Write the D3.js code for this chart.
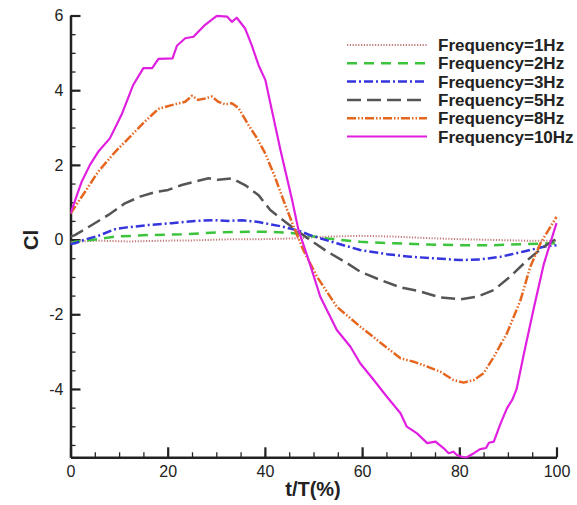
<!DOCTYPE html>
<html>
<head>
<meta charset="utf-8">
<script src="https://cdn.jsdelivr.net/npm/d3@7"></script>
<style>
  body { margin: 0; background: #fff; }
  svg { display: block; font-family: "Liberation Sans", Arial, sans-serif; }
</style>
</head>
<body>
<div id="chart"></div>
<script>
// series values, [t/T (%), Cl]
const f1 = [[0,-0.06],[5.7,-0.03],[12,-0.05],[19.5,-0.03],[26,-0.02],[33.2,0.01],[39,0.01],[45.9,0.03],[52.8,0.08],[59.6,0.1],[66.5,0.08],[73.4,0.04],[80.2,0.01],[87.1,-0.01],[94,-0.03],[100,-0.03]];
const f2 = [[0,-0.1],[0.9,-0.06],[5.7,0.01],[9.2,0.08],[16,0.12],[22.9,0.14],[29.8,0.19],[36.6,0.21],[41.1,0.21],[45.9,0.17],[52.8,0.03],[59.6,-0.06],[66.5,-0.1],[73.4,-0.13],[80.2,-0.15],[87.1,-0.15],[94,-0.12],[100,-0.1]];
const f3 = [[0,-0.12],[0.9,-0.1],[3,0.0],[5.7,0.1],[9.2,0.28],[11.2,0.32],[16,0.39],[20.8,0.44],[25.6,0.5],[29.8,0.52],[32.5,0.5],[35.3,0.52],[38.7,0.47],[43.5,0.35],[46.9,0.24],[49.3,0.12],[54.8,-0.1],[59.6,-0.28],[65.1,-0.39],[69.9,-0.46],[74.7,-0.5],[80.2,-0.55],[84.3,-0.53],[88.5,-0.46],[93.3,-0.32],[97.4,-0.19],[100,-0.15]];
const f5 = [[0,0.08],[0.9,0.12],[4.4,0.39],[7.8,0.66],[11.2,0.97],[14.3,1.15],[17.4,1.27],[20.1,1.33],[22.9,1.46],[25.6,1.55],[28.4,1.64],[30.4,1.6],[33.2,1.64],[35.9,1.46],[38.7,1.19],[41.1,0.79],[45.9,0.3],[49.3,-0.01],[52.8,-0.32],[56.9,-0.63],[59.6,-0.86],[63.7,-1.08],[67.9,-1.28],[72,-1.39],[76.1,-1.55],[80.2,-1.6],[83.7,-1.53],[87.1,-1.35],[90.5,-0.99],[94,-0.55],[97.4,-0.19],[100,0.02]];
const f8 = [[0,0.7],[3,1.28],[5.7,1.82],[9.2,2.35],[12.6,2.8],[15.3,3.16],[18.1,3.5],[20.8,3.6],[23.6,3.69],[25,3.85],[26.3,3.74],[27.7,3.78],[29.1,3.83],[30.4,3.69],[31.8,3.62],[33.2,3.65],[34.6,3.52],[36.6,3.07],[38.4,2.71],[40.1,2.3],[42,1.7],[43.8,1.06],[45.9,0.35],[47.9,-0.28],[50.7,-0.99],[54.8,-1.8],[59.6,-2.33],[63.1,-2.69],[67.9,-3.18],[70.6,-3.27],[73.4,-3.4],[76.1,-3.54],[78.8,-3.76],[80.9,-3.83],[83,-3.76],[85,-3.58],[87.1,-3.14],[89.8,-2.51],[92.6,-1.62],[94.6,-0.73],[96.7,-0.1],[98.8,0.35],[100,0.61]];
const f10 = [[0,0.7],[2.3,1.55],[4,2.0],[5.7,2.35],[8.1,2.71],[10.5,3.34],[12.9,4.14],[15,4.59],[16.8,4.59],[18.1,4.84],[21,4.85],[21.9,5.19],[23.6,5.39],[25.3,5.43],[27.7,5.75],[30.1,5.99],[32.2,5.97],[33.2,5.83],[34.2,5.94],[35.9,5.66],[37.3,5.2],[38.7,4.67],[40.1,4.27],[43.2,2.4],[45.6,1.06],[46.9,0.26],[49,-0.55],[51.4,-1.53],[54.8,-2.42],[57.6,-2.87],[59.6,-3.31],[62.4,-3.76],[65.1,-4.21],[67.9,-4.65],[69.2,-5.01],[71.3,-5.19],[73.4,-5.45],[75.1,-5.41],[76.8,-5.59],[77.8,-5.72],[78.8,-5.68],[79.5,-5.77],[81.3,-5.85],[83,-5.72],[84.3,-5.61],[85.5,-5.58],[86.1,-5.44],[87.1,-5.41],[88.5,-4.92],[89.8,-4.52],[90.9,-4.29],[91.8,-4.0],[93.3,-3.05],[95.3,-1.85],[97.4,-0.65],[100,0.44]];

const seriesNames = ["Frequency=1Hz", "Frequency=2Hz", "Frequency=3Hz", "Frequency=5Hz", "Frequency=8Hz", "Frequency=10Hz"];
const seriesData = [f1, f2, f3, f5, f8, f10];
const seriesColors = ["#c47a7a", "#3cc43c", "#3535dd", "#555555", "#e5661f", "#e01fe0"];
const seriesDash = ["1.2,1.6", "10,7", "9,3,2,3", "14,6", "9,2,1.5,2,1.5,2", null];
const seriesWidth = [2, 2.5, 2.5, 2.5, 2.5, 2.2];

const xTicks = [0, 20, 40, 60, 80, 100];
const yTicks = [-4, -2, 0, 2, 4, 6];

const width = 577, height = 505;

const svg = d3.select("#chart")
    .append("svg")
    .attr("width", width)
    .attr("height", height);

const x = d3.scaleLinear().domain([0, 100]).range([70.5, 556.5]);
const y = d3.scaleLinear().domain([-5.83, 6]).range([457.3, 15.5]);

// minor ticks
svg.append("g")
    .attr("transform", `translate(0,${y.range()[0]})`)
    .call(d3.axisBottom(x).tickValues(d3.range(0, 101, 5)).tickSize(-5).tickFormat(""))
    .call(g => g.select(".domain").remove())
    .selectAll("line").attr("stroke", "#222").attr("stroke-width", 1.3);

svg.append("g")
    .attr("transform", `translate(${x.range()[0]},0)`)
    .call(d3.axisLeft(y).tickValues(d3.range(-5.5, 6.01, 0.5)).tickSize(-5).tickFormat(""))
    .call(g => g.select(".domain").remove())
    .selectAll("line").attr("stroke", "#222").attr("stroke-width", 1.3);

// major ticks + labels
const xAxis = svg.append("g")
    .attr("transform", `translate(0,${y.range()[0]})`)
    .call(d3.axisBottom(x).tickValues(xTicks).tickSize(-10).tickSizeOuter(0).tickFormat(d => String(d)));
xAxis.select(".domain").attr("stroke", "#222").attr("stroke-width", 2.5);
xAxis.selectAll(".tick line").attr("stroke", "#222").attr("stroke-width", 2.2);
xAxis.selectAll("text")
    .attr("y", 8)
    .attr("dy", "0.71em")
    .style("font-size", "16px")
    .style("font-family", "'Liberation Sans', Arial, sans-serif")
    .attr("fill", "#222");

const yAxis = svg.append("g")
    .attr("transform", `translate(${x.range()[0]},0)`)
    .call(d3.axisLeft(y).tickValues(yTicks).tickSize(-10).tickSizeOuter(0).tickFormat(d => String(d)));
yAxis.select(".domain").attr("stroke", "#222").attr("stroke-width", 2.5);
yAxis.selectAll(".tick line").attr("stroke", "#222").attr("stroke-width", 2.2);
yAxis.selectAll("text")
    .attr("x", -7)
    .style("font-size", "16px")
    .style("font-family", "'Liberation Sans', Arial, sans-serif")
    .attr("fill", "#222");

// axis titles
svg.append("text")
    .attr("x", 313)
    .attr("y", 496)
    .attr("text-anchor", "middle")
    .style("font-size", "20px")
    .style("font-weight", "bold")
    .attr("fill", "#222")
    .text("t/T(%)");

svg.append("text")
    .attr("transform", `translate(38,240) rotate(-90)`)
    .attr("text-anchor", "middle")
    .style("font-size", "20px")
    .style("font-weight", "bold")
    .attr("fill", "#222")
    .text("Cl");

// curves
const line = d3.line()
    .x(d => x(d[0]))
    .y(d => y(d[1]));

svg.append("defs").append("clipPath").attr("id", "plotClip")
    .append("rect")
    .attr("x", x.range()[0]).attr("y", 0)
    .attr("width", width - x.range()[0]).attr("height", y.range()[0] + 1);

const curves = svg.append("g").attr("clip-path", "url(#plotClip)");
seriesData.forEach((data, i) => {
    curves.append("path")
        .datum(data)
        .attr("fill", "none")
        .attr("stroke", seriesColors[i])
        .attr("stroke-width", seriesWidth[i])
        .attr("stroke-dasharray", seriesDash[i])
        .attr("stroke-linejoin", "round")
        .attr("d", line);
});

// legend
const legend = svg.append("g");
seriesNames.forEach((name, i) => {
    const ly = 45 + i * 18.3;
    legend.append("line")
        .attr("x1", 347).attr("x2", 427)
        .attr("y1", ly).attr("y2", ly)
        .attr("stroke", seriesColors[i])
        .attr("stroke-width", seriesWidth[i])
        .attr("stroke-dasharray", seriesDash[i]);
    legend.append("text")
        .attr("x", 438)
        .attr("y", ly)
        .attr("dy", "0.36em")
        .style("font-size", "17px")
        .style("font-weight", "bold")
        .attr("fill", "#222")
        .text(name);
});
</script>
</body>
</html>
